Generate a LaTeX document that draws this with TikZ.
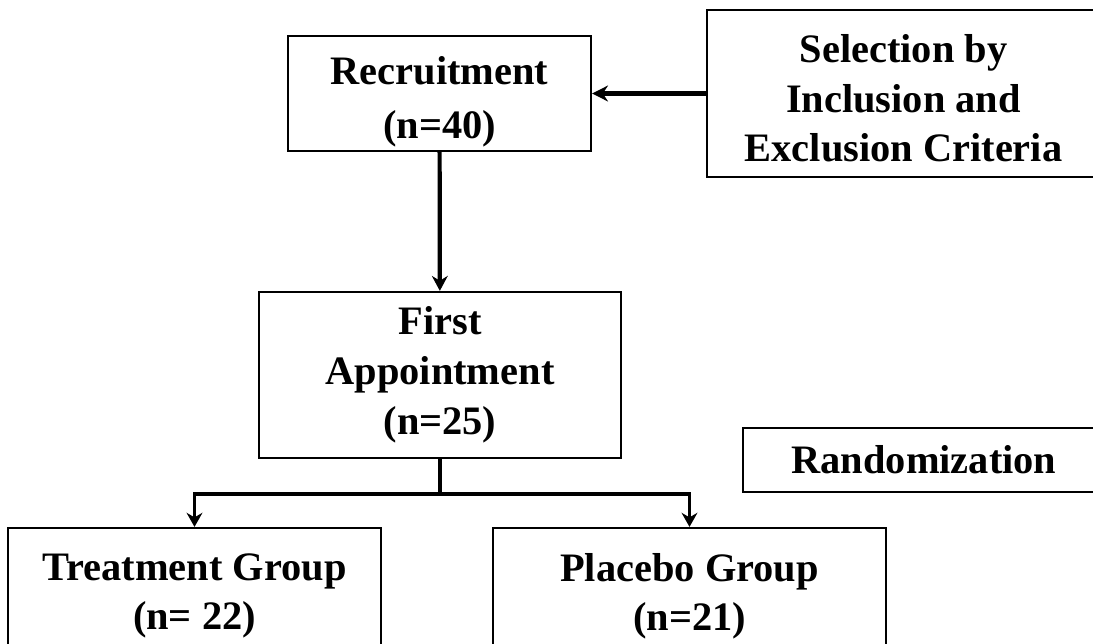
\documentclass[tikz,border=0pt]{standalone}
\usepackage{fontspec}
\setmainfont{Liberation Serif}
\usetikzlibrary{arrows.meta, positioning}
\tikzstyle{box} = [rectangle, draw=black, line width=1.3pt, inner sep=0pt, text centered, align=center, font=\fontsize{23}{28}\selectfont\bfseries]
\tikzstyle{stem} = [line width=2.4pt]
\tikzstyle{arrow} = [line width=2pt,->,>={Stealth[length=8pt,width=9pt]}]
\tikzstyle{bigarrow} = [line width=3.4pt,->,>={Stealth[length=9pt,width=9pt]}]

\begin{document}
\begin{tikzpicture}[x=0.02cm, y=-0.02cm]
        \useasboundingbox (0,0) rectangle (1093,643);
        \node (recruit) [box, minimum width=6.06cm, minimum height=2.3cm, font=\fontsize{23}{31}\selectfont\bfseries] at (439.5,93.5) {\rule{0pt}{25.5pt}Recruitment\\(n=40)};
        \node (select) [box, minimum width=7.86cm, minimum height=3.34cm] at (903.5,93.5) {\rule{0pt}{21.5pt}Selection by\\Inclusion and\\Exclusion Criteria};
        \draw [bigarrow] (select) -- (recruit);
        
        \node (first) [box, minimum width=7.24cm, minimum height=3.32cm, font=\fontsize{23}{28.5}\selectfont\bfseries] at (440,375) {First\\Appointment\\(n=25)};
        \draw [stem, -{Stealth[length=8.5pt,width=9pt]}] (recruit) -- (first);
        
        \node (random) [box, minimum width=7.24cm, minimum height=1.28cm] at (924,460) {Randomization};
        
        \node (treat) [box, minimum width=7.46cm, minimum height=2.72cm] at (194.5,596) {Treatment Group\\(n= 22)};
        \node (placebo) [box, minimum width=7.86cm, minimum height=2.72cm] at (689.5,596) {Placebo Group\\(n=21)};
        
        \draw [stem] (first.south) -- ++(0,35) coordinate (split);
        \draw [arrow] (split) -| (treat);
        \draw [arrow] (split) -| (placebo);
        \end{tikzpicture}
\end{document}
